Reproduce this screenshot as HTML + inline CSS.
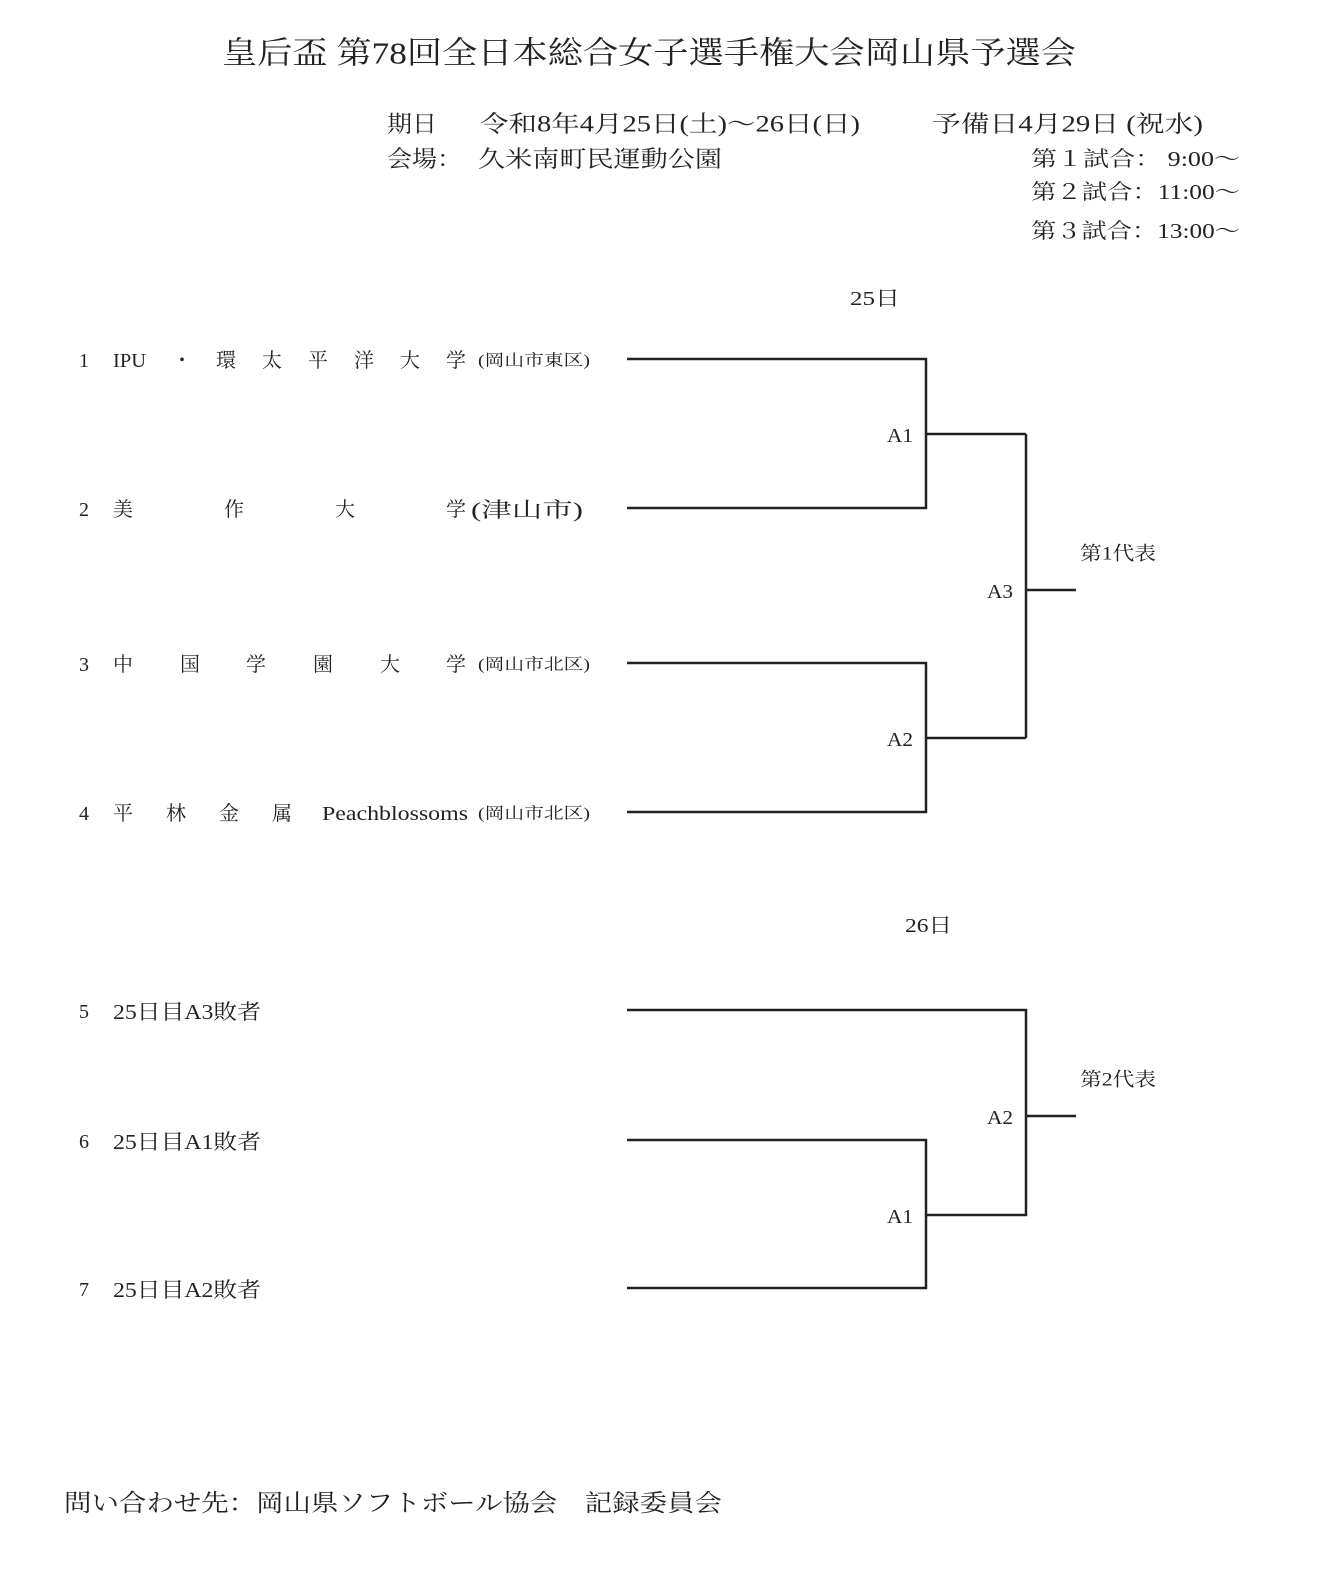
<!DOCTYPE html>
<html>
<head>
<meta charset="utf-8">
<style>
  html,body{margin:0;padding:0;background:#fff;}
  svg{display:block;}
  text{font-family:"Liberation Serif","Noto Serif CJK SC","Noto Serif CJK JP",serif;fill:#222;dominant-baseline:central;}
</style>
</head>
<body>
<svg width="1319" height="1570" viewBox="0 0 1319 1570" xmlns="http://www.w3.org/2000/svg">
  <!-- Bracket lines -->
  <g fill="none" stroke="#222" stroke-width="2.5" stroke-linejoin="miter">
    <path d="M627 359 H926 V508 H627"/>
    <path d="M926 434 H1026"/>
    <path d="M627 663 H926 V812 H627"/>
    <path d="M926 738 H1026"/>
    <path d="M1026 434 V738"/>
    <path d="M1026 590 H1076"/>

    <path d="M627 1010 H1026 V1215 H926"/>
    <path d="M627 1140 H926 V1288 H627"/>
    <path d="M1026 1116 H1076"/>
  </g>

  <g transform="translate(0,2)">
  <!-- Title -->
  <text x="222" y="51" font-size="31" textLength="854" lengthAdjust="spacingAndGlyphs">皇后盃 第78回全日本総合女子選手権大会岡山県予選会</text>

  <!-- Info -->
  <text x="387" y="122" font-size="23" textLength="50" lengthAdjust="spacingAndGlyphs">期日</text>
  <text x="480" y="122" font-size="23" textLength="380" lengthAdjust="spacingAndGlyphs">令和8年4月25日(土)～26日(日)</text>
  <text x="932" y="122" font-size="23" textLength="271" lengthAdjust="spacingAndGlyphs">予備日4月29日 (祝水)</text>
  <text x="387" y="157" font-size="23" textLength="75" lengthAdjust="spacingAndGlyphs">会場：</text>
  <text x="478" y="157" font-size="23" textLength="244" lengthAdjust="spacingAndGlyphs">久米南町民運動公園</text>
  <text x="1031" y="157" font-size="21" textLength="209" lengthAdjust="spacingAndGlyphs">第１試合：  9:00～</text>
  <text x="1031" y="190" font-size="21" textLength="209" lengthAdjust="spacingAndGlyphs">第２試合：11:00～</text>
  <text x="1031" y="229" font-size="21" textLength="209" lengthAdjust="spacingAndGlyphs">第３試合：13:00～</text>

  <!-- Day labels -->
  <text x="850" y="297" font-size="20" textLength="50" lengthAdjust="spacingAndGlyphs">25日</text>
  <text x="905" y="924" font-size="20" textLength="47" lengthAdjust="spacingAndGlyphs">26日</text>

  <!-- Team 1 -->
  <text x="79" y="359" font-size="20">1</text>
  <text x="113" y="359" font-size="20" textLength="33" lengthAdjust="spacingAndGlyphs">IPU</text>
  <text x="172" y="359" font-size="20">・</text>
  <text x="216" y="359" font-size="20">環</text>
  <text x="262" y="359" font-size="20">太</text>
  <text x="308" y="359" font-size="20">平</text>
  <text x="354" y="359" font-size="20">洋</text>
  <text x="400" y="359" font-size="20">大</text>
  <text x="446" y="359" font-size="20">学</text>
  <text x="478" y="359" font-size="16" textLength="112" lengthAdjust="spacingAndGlyphs">(岡山市東区)</text>

  <!-- Team 2 -->
  <text x="79" y="508" font-size="20">2</text>
  <text x="113" y="508" font-size="20">美</text>
  <text x="224" y="508" font-size="20">作</text>
  <text x="335" y="508" font-size="20">大</text>
  <text x="446" y="508" font-size="20">学</text>
  <text x="471" y="508" font-size="21" textLength="112" lengthAdjust="spacingAndGlyphs">(津山市)</text>

  <!-- Team 3 -->
  <text x="79" y="663" font-size="20">3</text>
  <text x="113" y="663" font-size="20">中</text>
  <text x="180" y="663" font-size="20">国</text>
  <text x="246" y="663" font-size="20">学</text>
  <text x="313" y="663" font-size="20">園</text>
  <text x="380" y="663" font-size="20">大</text>
  <text x="446" y="663" font-size="20">学</text>
  <text x="478" y="663" font-size="16" textLength="112" lengthAdjust="spacingAndGlyphs">(岡山市北区)</text>

  <!-- Team 4 -->
  <text x="79" y="812" font-size="20">4</text>
  <text x="113" y="812" font-size="20">平</text>
  <text x="166" y="812" font-size="20">林</text>
  <text x="219" y="812" font-size="20">金</text>
  <text x="272" y="812" font-size="20">属</text>
  <text x="322" y="812" font-size="20" textLength="146" lengthAdjust="spacingAndGlyphs">Peachblossoms</text>
  <text x="478" y="812" font-size="16" textLength="112" lengthAdjust="spacingAndGlyphs">(岡山市北区)</text>

  <!-- Teams 5-7 -->
  <text x="79" y="1010" font-size="20">5</text>
  <text x="113" y="1010" font-size="21" textLength="148" lengthAdjust="spacingAndGlyphs">25日目A3敗者</text>
  <text x="79" y="1140" font-size="20">6</text>
  <text x="113" y="1140" font-size="21" textLength="148" lengthAdjust="spacingAndGlyphs">25日目A1敗者</text>
  <text x="79" y="1288" font-size="20">7</text>
  <text x="113" y="1288" font-size="21" textLength="148" lengthAdjust="spacingAndGlyphs">25日目A2敗者</text>

  <!-- Bracket labels -->
  <text x="913" y="434" font-size="20" text-anchor="end" textLength="26" lengthAdjust="spacingAndGlyphs">A1</text>
  <text x="913" y="738" font-size="20" text-anchor="end" textLength="26" lengthAdjust="spacingAndGlyphs">A2</text>
  <text x="1013" y="590" font-size="20" text-anchor="end" textLength="26" lengthAdjust="spacingAndGlyphs">A3</text>
  <text x="1080" y="552" font-size="19" textLength="76" lengthAdjust="spacingAndGlyphs">第1代表</text>

  <text x="1013" y="1116" font-size="20" text-anchor="end" textLength="26" lengthAdjust="spacingAndGlyphs">A2</text>
  <text x="913" y="1215" font-size="20" text-anchor="end" textLength="26" lengthAdjust="spacingAndGlyphs">A1</text>
  <text x="1080" y="1078" font-size="19" textLength="76" lengthAdjust="spacingAndGlyphs">第2代表</text>

  <!-- Footer -->
  <text x="64" y="1502" font-size="24" textLength="658" lengthAdjust="spacingAndGlyphs">問い合わせ先：岡山県ソフトボール協会　記録委員会</text>
  </g>
</svg>
</body>
</html>
